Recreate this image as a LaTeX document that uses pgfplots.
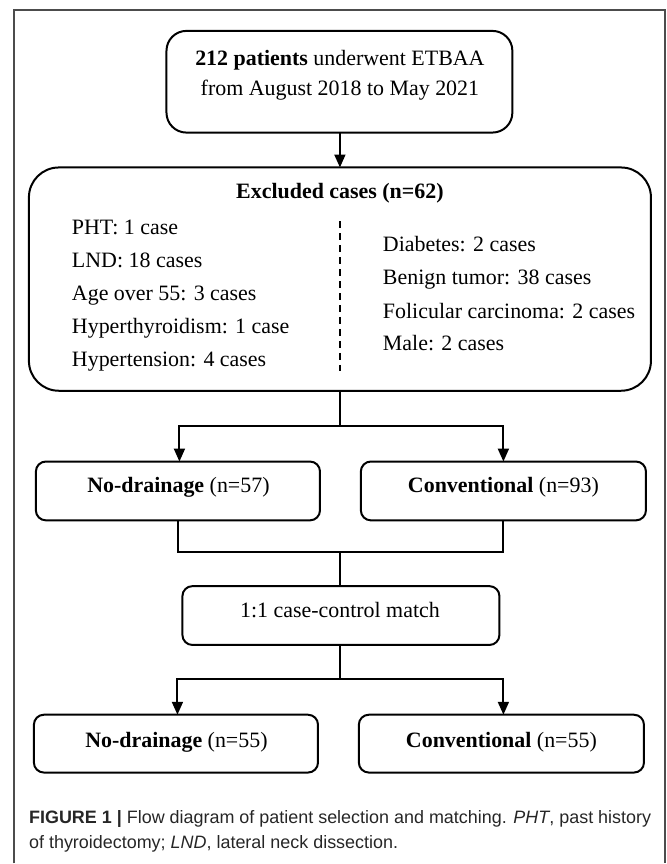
\documentclass[border=0pt]{standalone}
\usepackage{fontspec}
\setmainfont{Liberation Serif}
\setsansfont{Liberation Sans}
\usepackage{pgfplots}
\pgfplotsset{compat=1.18}
\usetikzlibrary{arrows.meta}
\begin{document}
\begin{tikzpicture}
\tikzset{bx/.style={draw=black, line width=2pt},
  tx/.style={font=\fontsize{22}{26}\selectfont, inner sep=0pt, text height=0.7em, text depth=0.2em},
  ln/.style={black, line width=2pt},
  ar/.style={black, line width=2pt, -{Triangle[length=13pt,width=11pt]}}}
\begin{axis}[width=669pt,height=864pt,scale only axis,xmin=0,xmax=669,ymin=0,ymax=864,
  y dir=reverse,hide axis,clip=false]
\path (axis cs:0,0) rectangle (axis cs:669,864);
% outer frame
\draw[color=black!70, line width=1.5pt] (axis cs:14,866) -- (axis cs:14,10) -- (axis cs:667,10) -- (axis cs:667,866);
% box 1
\draw[bx, rounded corners=20pt] (axis cs:167,31) rectangle (axis cs:514,133);
\node[tx] at (axis cs:341,63) {\textbf{212 patients} underwent ETBAA};
\node[tx] at (axis cs:341,93) {from August 2018 to May 2021};
\addplot[ar] coordinates {(341,133) (341,168)};
% box 2
\draw[bx, rounded corners=30pt] (axis cs:29,168) rectangle (axis cs:653,392);
\node[tx] at (axis cs:341,197) {\textbf{Excluded cases (n=62)}};
\node[tx, anchor=west] at (axis cs:72,233) {PHT: 1 case};
\node[tx, anchor=west] at (axis cs:72,266) {LND: 18 cases};
\node[tx, anchor=west] at (axis cs:72,299) {Age over 55: 3 cases};
\node[tx, anchor=west] at (axis cs:72,332) {Hyperthyroidism: 1 case};
\node[tx, anchor=west] at (axis cs:72,365) {Hypertension: 4 cases};
\node[tx, anchor=west] at (axis cs:384,250) {Diabetes: 2 cases};
\node[tx, anchor=west] at (axis cs:384,283) {Benign tumor: 38 cases};
\node[tx, anchor=west] at (axis cs:384,317) {Folicular carcinoma: 2 cases};
\node[tx, anchor=west] at (axis cs:384,349) {Male: 2 cases};
\addplot[black, line width=1.5pt, dash pattern=on 7pt off 5pt] coordinates {(341,222) (341,372)};
% branch 1
\addplot[ln] coordinates {(341,392) (341,427)};
\addplot[ar] coordinates {(341,427) (180,427) (180,463)};
\addplot[ar] coordinates {(341,427) (505,427) (505,463)};
% boxes 3
\draw[bx, rounded corners=10pt] (axis cs:36,463) rectangle (axis cs:321,522);
\draw[bx, rounded corners=10pt] (axis cs:362,463) rectangle (axis cs:648,522);
\node[tx] at (axis cs:179,492) {\textbf{No-drainage} (n=57)};
\node[tx] at (axis cs:505,492) {\textbf{Conventional} (n=93)};
% merge
\addplot[ln] coordinates {(179,522) (179,554) (505,554) (505,522)};
\addplot[ln] coordinates {(341,554) (341,588)};
% box 4
\draw[bx, rounded corners=10pt] (axis cs:183,588) rectangle (axis cs:501,647);
\node[tx] at (axis cs:341,617) {1:1 case-control match};
% branch 2
\addplot[ln] coordinates {(341,647) (341,681)};
\addplot[ar] coordinates {(341,681) (178,681) (178,717)};
\addplot[ar] coordinates {(341,681) (505,681) (505,717)};
% boxes 5
\draw[bx, rounded corners=10pt] (axis cs:34,717) rectangle (axis cs:319,775);
\draw[bx, rounded corners=10pt] (axis cs:360,717) rectangle (axis cs:646,775);
\node[tx] at (axis cs:177,747) {\textbf{No-drainage} (n=55)};
\node[tx] at (axis cs:503,747) {\textbf{Conventional} (n=55)};
% caption
\node[anchor=west, inner sep=0pt, text=black!85, font=\sffamily\fontsize{18}{22}\selectfont] at (axis cs:29,822)
  {\textbf{FIGURE 1 |} Flow diagram of patient selection and matching. \textit{PHT}, past history};
\node[anchor=west, inner sep=0pt, text=black!85, font=\sffamily\fontsize{18}{22}\selectfont] at (axis cs:29,847)
  {of thyroidectomy; \textit{LND}, lateral neck dissection.};
\end{axis}
\end{tikzpicture}
\end{document}
